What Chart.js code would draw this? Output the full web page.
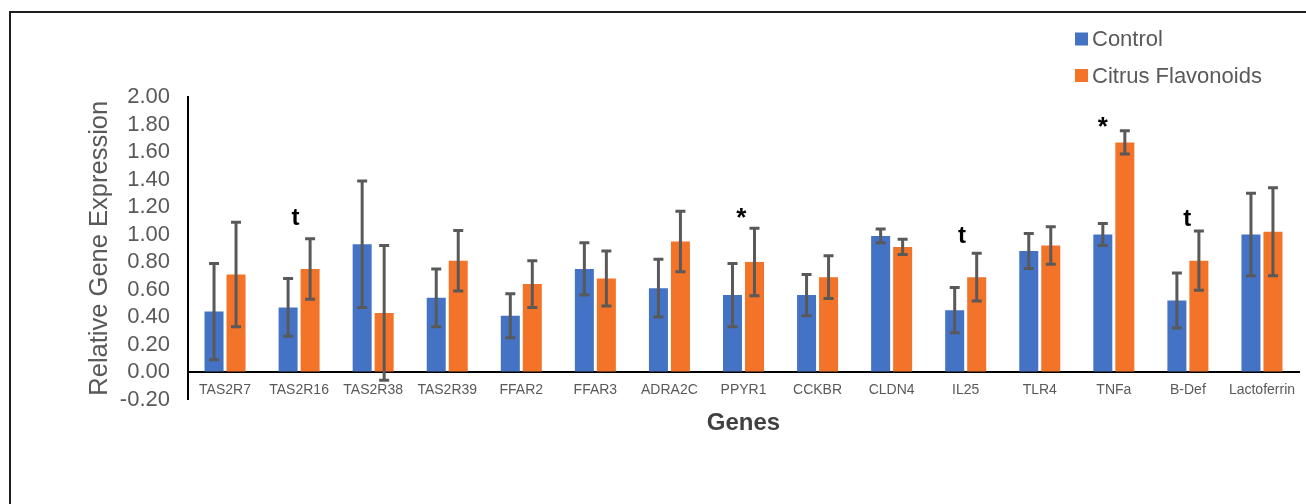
<!DOCTYPE html>
<html>
<head>
<meta charset="utf-8">
<script src="https://cdn.jsdelivr.net/npm/chart.js@4/dist/chart.umd.min.js"></script>
<style>
    html, body { margin: 0; padding: 0; background: #fff; overflow: hidden; }
    #wrap { position: relative; width: 1306px; height: 504px; }
    #frame {
        position: absolute; left: 9px; top: 11px; width: 1320px; height: 520px;
        border-top: 2px solid #1e1e1e; border-left: 2px solid #1e1e1e;
    }
    #chart { position: absolute; left: 0; top: 0; }
</style>
</head>
<body>
<div id="wrap">
    <div id="frame"></div>
    <canvas id="chart" width="1306" height="504"></canvas>
</div>
<script>
const genes = ['TAS2R7', 'TAS2R16', 'TAS2R38', 'TAS2R39', 'FFAR2', 'FFAR3', 'ADRA2C', 'PPYR1',
    'CCKBR', 'CLDN4', 'IL25', 'TLR4', 'TNFa', 'B-Def', 'Lactoferrin'];

const controlValues = [0.44, 0.47, 0.93, 0.54, 0.41, 0.75, 0.61, 0.56, 0.56, 0.99, 0.45, 0.88, 1.00, 0.52, 1.00];
const controlErrors = [0.35, 0.21, 0.46, 0.21, 0.16, 0.19, 0.21, 0.23, 0.15, 0.05, 0.165, 0.127, 0.08, 0.20, 0.30];

const citrusValues = [0.71, 0.75, 0.43, 0.81, 0.64, 0.68, 0.95, 0.80, 0.69, 0.91, 0.69, 0.92, 1.67, 0.81, 1.02];
const citrusErrors = [0.38, 0.22, 0.49, 0.22, 0.17, 0.20, 0.22, 0.245, 0.155, 0.055, 0.173, 0.136, 0.085, 0.215, 0.32];

// significance marks: text, category position (fractional index), value at glyph centre
const markTexts = ['t', '*', 't', '*', 't'];
const markPositions = [0.95, 6.97, 9.95, 11.85, 12.99];
const markValues = [1.13, 1.16, 1.00, 1.82, 1.12];

const fontFamily = '"Liberation Sans", Arial, sans-serif';
const errors = [controlErrors, citrusErrors];

const errorBars = {
    id: 'errorBars',
    afterDatasetsDraw(chart) {
        const ctx = chart.ctx;
        const y = chart.scales.y;
        ctx.save();
        ctx.strokeStyle = '#595959';
        ctx.lineWidth = 3;
        chart.data.datasets.forEach((ds, di) => {
            chart.getDatasetMeta(di).data.forEach((bar, i) => {
                const top = y.getPixelForValue(ds.data[i] + errors[di][i]);
                const bottom = y.getPixelForValue(ds.data[i] - errors[di][i]);
                ctx.beginPath();
                ctx.moveTo(bar.x, top);
                ctx.lineTo(bar.x, bottom);
                ctx.moveTo(bar.x - 5, top);
                ctx.lineTo(bar.x + 5, top);
                ctx.moveTo(bar.x - 5, bottom);
                ctx.lineTo(bar.x + 5, bottom);
                ctx.stroke();
            });
        });
        ctx.restore();
    }
};

const marks = {
    id: 'marks',
    afterDraw(chart) {
        const ctx = chart.ctx;
        ctx.save();
        ctx.fillStyle = '#000';
        ctx.textAlign = 'center';
        ctx.textBaseline = 'alphabetic';
        markTexts.forEach((txt, i) => {
            ctx.font = 'bold ' + (txt === '*' ? 26 : 24) + 'px ' + fontFamily;
            const m = ctx.measureText(txt);
            const cx = chart.scales.x.getPixelForValue(markPositions[i]);
            const cy = chart.scales.y.getPixelForValue(markValues[i]);
            ctx.fillText(txt, cx, cy + (m.actualBoundingBoxAscent - m.actualBoundingBoxDescent) / 2);
        });
        ctx.restore();
    }
};

// stacked legend in the top right corner
const stackedLegend = {
    id: 'stackedLegend',
    afterDraw(chart) {
        const ctx = chart.ctx;
        ctx.save();
        ctx.font = '22px ' + fontFamily;
        ctx.textBaseline = 'middle';
        ctx.textAlign = 'left';
        chart.data.datasets.forEach((ds, i) => {
            const cy = 39 + i * 36.5;
            ctx.fillStyle = ds.backgroundColor;
            ctx.fillRect(1075, cy - 6.5, 13, 13);
            ctx.fillStyle = '#595959';
            ctx.fillText(ds.label, 1092, cy + 1);
        });
        ctx.restore();
    }
};

new Chart(document.getElementById('chart'), {
    type: 'bar',
    data: {
        labels: genes,
        datasets: [
            { label: 'Control', data: controlValues, backgroundColor: '#4472C4' },
            { label: 'Citrus Flavonoids', data: citrusValues, backgroundColor: '#F37329' }
        ]
    },
    options: {
        responsive: false,
        animation: false,
        devicePixelRatio: 1,
        categoryPercentage: 0.594,
        barPercentage: 0.864,
        layout: { padding: { left: 78, right: 7, top: 97, bottom: 104.5 } },
        plugins: {
            legend: { display: false },
            tooltip: { enabled: false }
        },
        scales: {
            x: {
                position: { y: 0 },
                grid: { drawOnChartArea: false, drawTicks: false },
                border: { display: true, color: '#000', width: 2 },
                ticks: {
                    padding: 10,
                    color: '#595959',
                    font: { family: fontFamily, size: 14 },
                    maxRotation: 0,
                    autoSkip: false
                },
                title: {
                    display: true,
                    text: 'Genes',
                    color: '#404040',
                    font: { family: fontFamily, size: 24, weight: 'bold' },
                    padding: { top: 9, bottom: 0 }
                },
                afterFit: s => { s.height = 66; }
            },
            y: {
                min: -0.2,
                max: 2.0,
                grid: { drawOnChartArea: false, drawTicks: false },
                border: { display: true, color: '#000', width: 2 },
                ticks: {
                    stepSize: 0.2,
                    autoSkip: false,
                    padding: 18,
                    color: '#595959',
                    font: { family: fontFamily, size: 22 },
                    callback: v => v.toFixed(2)
                },
                title: {
                    display: true,
                    text: 'Relative Gene Expression',
                    color: '#595959',
                    font: { family: fontFamily, size: 25.5 },
                    padding: { top: 7, bottom: 0 }
                },
                afterFit: s => { s.width = 110; }
            }
        }
    },
    plugins: [errorBars, marks, stackedLegend]
});
</script>
</body>
</html>
